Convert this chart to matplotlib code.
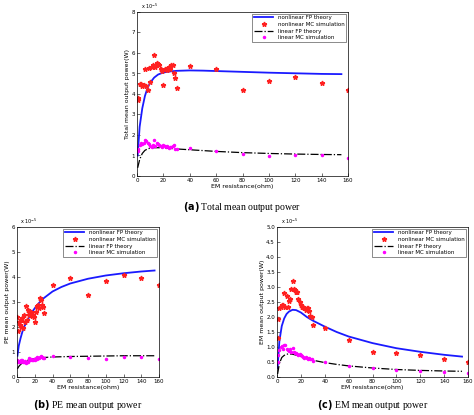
import matplotlib.pyplot as plt

# theory curves (x in ohm, y in units of 1e-5 W)
theory_x = [0.5, 2, 4, 6, 8, 10, 13, 16, 20, 25, 30, 40, 50, 60, 80, 100, 120, 140, 155]
tot_nl = [1.0, 2.4, 3.3, 3.9, 4.3, 4.55, 4.8, 4.95, 5.05, 5.1, 5.13, 5.15, 5.14, 5.12, 5.08, 5.04, 5.01, 4.98, 4.97]
tot_l = [0.4, 0.8, 1.1, 1.25, 1.32, 1.36, 1.38, 1.38, 1.37, 1.35, 1.32, 1.28, 1.24, 1.2, 1.14, 1.1, 1.07, 1.05, 1.04]
pe_nl = [0.85, 1.25, 1.55, 1.8, 2.0, 2.15, 2.35, 2.55, 2.75, 2.97, 3.15, 3.42, 3.6, 3.74, 3.93, 4.06, 4.15, 4.22, 4.26]
pe_l = [0.33, 0.42, 0.5, 0.56, 0.6, 0.64, 0.68, 0.71, 0.74, 0.76, 0.78, 0.8, 0.81, 0.82, 0.83, 0.84, 0.85, 0.85, 0.85]
em_nl = [0.3, 1.2, 1.7, 1.95, 2.1, 2.18, 2.24, 2.23, 2.15, 2.0, 1.88, 1.68, 1.5, 1.35, 1.13, 0.96, 0.84, 0.74, 0.68]
em_l = [0.1, 0.45, 0.65, 0.72, 0.76, 0.77, 0.76, 0.73, 0.68, 0.62, 0.56, 0.48, 0.42, 0.37, 0.3, 0.25, 0.22, 0.2, 0.19]

# simulation points
sim_x = [0.5, 1, 2, 3, 4, 5, 6, 7, 8, 9, 10, 11, 12, 13, 14, 15, 16, 17, 18, 19, 20, 21, 22, 23, 24, 25, 26, 27, 28, 29, 30, 40, 60, 80, 100, 120, 140, 160]
tot_nl_sim = [3.7, 3.8, 4.5, 4.5, 4.4, 4.45, 5.2, 4.4, 4.2, 5.25, 4.6, 5.3, 5.4, 5.9, 5.3, 5.5, 5.45, 5.4, 5.2, 5.1, 4.45, 5.2, 5.2, 5.15, 5.3, 5.2, 5.4, 5.4, 5.0, 4.8, 4.3, 5.35, 5.2, 4.2, 4.65, 4.85, 4.55, 4.2]
tot_l_sim = [1.2, 1.3, 1.5, 1.6, 1.55, 1.6, 1.75, 1.7, 1.6, 1.55, 1.45, 1.4, 1.5, 1.75, 1.45, 1.6, 1.55, 1.5, 1.45, 1.4, 1.5, 1.45, 1.4, 1.45, 1.35, 1.4, 1.4, 1.45, 1.5, 1.3, 1.3, 1.35, 1.2, 1.05, 0.98, 1.0, 1.0, 0.88]
pe_nl_sim = [2.4, 1.85, 2.2, 2.1, 2.3, 2.0, 2.35, 1.95, 2.5, 2.2, 2.85, 2.3, 2.7, 2.6, 2.5, 2.55, 2.6, 2.45, 2.5, 2.4, 2.2, 2.6, 2.8, 2.85, 2.9, 2.75, 3.15, 3.1, 2.9, 2.8, 2.55, 3.7, 3.95, 3.3, 3.85, 4.1, 3.95, 3.7]
pe_l_sim = [0.7, 0.6, 0.65, 0.62, 0.68, 0.65, 0.7, 0.62, 0.6, 0.65, 0.58, 0.62, 0.6, 0.68, 0.75, 0.7, 0.72, 0.68, 0.7, 0.72, 0.7, 0.75, 0.8, 0.72, 0.75, 0.78, 0.82, 0.85, 0.8, 0.76, 0.78, 0.85, 0.82, 0.78, 0.72, 0.8, 0.82, 0.72]
em_nl_sim = [1.3, 1.95, 2.3, 2.35, 2.4, 2.4, 2.8, 2.35, 2.7, 2.35, 2.55, 2.6, 2.95, 3.2, 2.95, 2.9, 2.85, 2.85, 2.6, 2.5, 2.4, 2.35, 2.35, 2.3, 2.25, 2.3, 2.3, 2.2, 2.05, 2.0, 1.75, 1.65, 1.25, 0.85, 0.8, 0.72, 0.6, 0.5]
em_l_sim = [0.5, 0.75, 0.9, 1.0, 1.05, 0.95, 1.07, 1.08, 0.95, 0.9, 0.88, 0.92, 0.85, 0.98, 0.85, 0.8, 0.8, 0.78, 0.75, 0.78, 0.72, 0.7, 0.68, 0.65, 0.68, 0.62, 0.6, 0.62, 0.6, 0.6, 0.55, 0.5, 0.38, 0.3, 0.25, 0.2, 0.18, 0.15]

W, H = 474, 415
fig = plt.figure(figsize=(W / 100, H / 100), dpi=100)


def panel(rect, nl, l, nls, ls, ylim, yticks, ylabel, caption, cap_y):
    ax = fig.add_axes([rect[0] / W, 1 - rect[3] / H, (rect[2] - rect[0]) / W, (rect[3] - rect[1]) / H])
    ax.plot(theory_x, nl, color='#1a1aff', lw=1.3, label='nonlinear FP theory')
    ax.plot(sim_x, nls, '*', color='#ff2020', ms=3.5, ls='none', label='nonlinear MC simulation')
    ax.plot(theory_x, l, color='black', lw=0.9, ls='-.', label='linear FP theory')
    ax.plot(sim_x, ls, '.', color='magenta', ms=3, ls='none', label='linear MC simulation')
    ax.set_xlim(0, 160)
    ax.set_ylim(*ylim)
    ax.set_xticks(range(0, 161, 20))
    ax.set_yticks(yticks)
    ax.tick_params(labelsize=4, length=2, width=0.4, direction='in', pad=1.5)
    ax.set_xlabel('EM resistance(ohm)', fontsize=4.5, labelpad=1)
    ax.set_ylabel(ylabel, fontsize=4.5, labelpad=1)
    for s in ax.spines.values():
        s.set_linewidth(0.5)
    ax.text(0.02, 1.005, r'x 10$^{-5}$', transform=ax.transAxes, fontsize=3.5, va='bottom')
    leg = ax.legend(loc='upper right', fontsize=4, frameon=True, fancybox=False, edgecolor='black',
                    borderpad=0.3, handlelength=3.5, labelspacing=0.3, borderaxespad=0.3)
    leg.get_frame().set_linewidth(0.4)
    cx = (rect[0] + rect[2]) / 2 / W
    fig.text(cx, 1 - cap_y / H, caption, ha='center', va='center', fontsize=7, family='Liberation Serif')
    return ax


panel((137, 12, 348, 176), tot_nl, tot_l, tot_nl_sim, tot_l_sim, (0, 8), range(0, 9),
      'Total mean output power(W)', r'$\bf{(a)}$ Total mean output power', 207)
panel((17, 227, 159, 377), pe_nl, pe_l, pe_nl_sim, pe_l_sim, (0, 6), range(0, 7),
      'PE mean output power(W)', r'$\bf{(b)}$ PE mean output power', 405)
panel((277, 227, 468, 377), em_nl, em_l, em_nl_sim, em_l_sim, (0, 5), [i * 0.5 for i in range(11)],
      'EM mean output power(W)', r'$\bf{(c)}$ EM mean output power', 405)

fig.savefig('out.png', dpi=100)
